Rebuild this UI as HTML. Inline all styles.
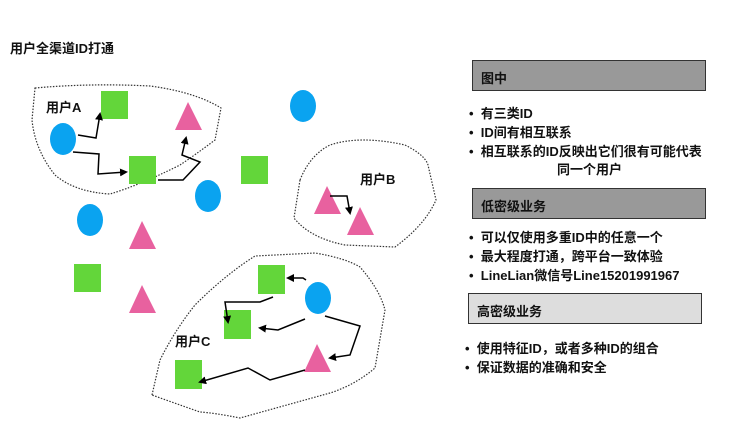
<!DOCTYPE html><html><head><meta charset="utf-8"><style>
body{margin:0;width:750px;height:441px;background:#fff;overflow:hidden;position:relative;font-family:"Liberation Sans","Noto Sans CJK SC",sans-serif;font-weight:bold;color:#111}
.t{position:absolute;font-size:13px;white-space:nowrap}
.box{position:absolute;border:1.5px solid #333;box-sizing:border-box;font-size:13px;padding:7px 0 0 8px}
</style></head><body>
<svg width="750" height="441" style="position:absolute;left:0;top:0">
<defs><marker id="a" markerWidth="8" markerHeight="8" refX="6" refY="4" orient="auto" markerUnits="userSpaceOnUse"><path d="M0,0 L8,4 L0,8 z" fill="#000"/></marker></defs>
<g fill="none" stroke="#333" stroke-width="1.2" stroke-dasharray="1.5,1.5">
<path d="M35,88 Q90,83 150,86 Q195,92 221,108 L215,140 Q195,155 180,165 Q140,185 110,194 Q75,192 55,175 Q35,150 32,120 Z"/>
<path d="M300,180 Q310,155 330,145 Q360,135 405,145 Q425,155 428,165 L436,200 Q425,225 395,247 L345,245 Q310,238 294,218 Z"/>
<path d="M152,395 L160,360 Q175,330 195,305 Q225,275 255,256 L315,253 Q345,258 360,267 Q380,290 385,310 L375,368 Q355,385 330,393 L240,418 Q215,413 200,412 Z"/>
</g>
<g fill="#63d63a">
<rect x="101" y="91" width="27" height="28"/><rect x="129" y="156" width="27" height="28"/><rect x="241" y="156" width="27" height="28"/>
<rect x="74" y="264" width="27" height="28"/><rect x="258" y="265" width="27" height="29"/><rect x="224" y="310" width="27" height="29"/><rect x="175" y="360" width="27" height="29"/>
</g>
<g fill="#0aa3f0">
<ellipse cx="63" cy="139" rx="13" ry="16"/><ellipse cx="303" cy="106" rx="13" ry="16"/><ellipse cx="208" cy="196" rx="13" ry="16"/><ellipse cx="90" cy="220" rx="13" ry="16"/><ellipse cx="318" cy="298" rx="13" ry="16"/>
</g>
<g fill="#e8619f">
<polygon points="188,102 202,130 175,130"/><polygon points="142,221 156,249 129,249"/><polygon points="142,285 156,313 129,313"/>
<polygon points="327,186 341,214 314,214"/><polygon points="360,207 374,235 347,235"/><polygon points="317,344 331,372 304,372"/>
</g>
<g fill="none" stroke="#000" stroke-width="1.5" marker-end="url(#a)">
<path d="M78,135 L96,138 L100,114"/>
<path d="M73,152 L99,154 L98,174 L126,172"/>
<path d="M158,180 L183,180 L200,162 L182,155 L186,138"/>
<path d="M330,196 L347,196 L350,213"/>
<path d="M306,280 L303,278 L288,278"/>
<path d="M273,297 L260,302 L225,302 L228,322"/>
<path d="M305,319 L278,330 L260,328"/>
<path d="M325,316 L360,326 L350,355 L330,358"/>
<path d="M305,370 L270,380 L248,368 L200,382"/>
</g>
</svg>
<div class="t" style="left:10px;top:38px;font-size:13px">用户全渠道ID打通</div>
<div class="t" style="left:46px;top:97px">用户A</div>
<div class="t" style="left:360px;top:169px">用户B</div>
<div class="t" style="left:175px;top:331px">用户C</div>
<div class="box" style="left:472px;top:60px;width:234px;height:31px;background:#999">图中</div>
<div class="box" style="left:472px;top:188px;width:234px;height:31px;background:#999">低密级业务</div>
<div class="box" style="left:468px;top:293px;width:234px;height:31px;background:#ddd">高密级业务</div>
<div class="t" style="left:469px;top:103px">•&nbsp;&nbsp;有三类ID</div>
<div class="t" style="left:469px;top:122px">•&nbsp;&nbsp;ID间有相互联系</div>
<div class="t" style="left:469px;top:141px">•&nbsp;&nbsp;相互联系的ID反映出它们很有可能代表</div>
<div class="t" style="left:557px;top:159px">同一个用户</div>
<div class="t" style="left:469px;top:227px">•&nbsp;&nbsp;可以仅使用多重ID中的任意一个</div>
<div class="t" style="left:469px;top:246px">•&nbsp;&nbsp;最大程度打通，跨平台一致体验</div>
<div class="t" style="left:469px;top:265px">•&nbsp;&nbsp;LineLian微信号Line15201991967</div>
<div class="t" style="left:465px;top:338px">•&nbsp;&nbsp;使用特征ID，或者多种ID的组合</div>
<div class="t" style="left:465px;top:357px">•&nbsp;&nbsp;保证数据的准确和安全</div>
</body></html>
